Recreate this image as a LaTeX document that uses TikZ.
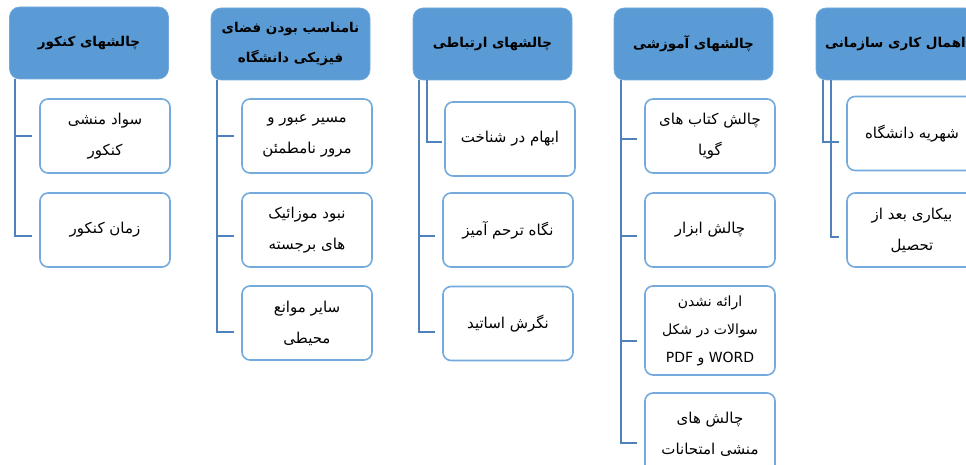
\documentclass[tikz,border=0pt]{standalone}
\usepackage{fontspec}
\TeXXeTstate=1
\newfontfamily\arabicfont[Script=Arabic]{DejaVu Sans}
\newcommand{\fa}[1]{\beginR #1\endR}
\definecolor{hdrblue}{HTML}{5B9BD5}
\definecolor{boxline}{HTML}{74AADC}
\definecolor{connblue}{HTML}{4F81BD}
\tikzset{
  hdr/.style={rectangle, rounded corners=10pt, fill=hdrblue, draw=hdrblue!85!white, line width=0.6pt,
    minimum width=159pt, minimum height=72pt, align=center, inner sep=1pt,
    font=\arabicfont\bfseries\fontsize{13.5}{30}\selectfont},
  leaf/.style={rectangle, rounded corners=8pt, fill=white, draw=boxline, line width=1.6pt,
    minimum width=130pt, minimum height=74pt, align=center, inner sep=1pt,
    font=\arabicfont\fontsize{15}{31}\selectfont},
  conn/.style={draw=connblue, line width=2pt, shorten >=7pt}
}
\begin{document}
\begin{tikzpicture}[x=1pt,y=-1pt]
\useasboundingbox (0,0) rectangle (966,465);
\clip (0,0) rectangle (966,465);
% headers
\node[hdr] (h1) at (89,43) {\fa{چالشهای کنکور}};
\node[hdr] (h2) at (290.5,44) {\fa{نامناسب بودن فضای}\\\fa{فیزیکی دانشگاه}};
\node[hdr] (h3) at (492.5,44) {\fa{چالشهای ارتباطی}};
\node[hdr] (h4) at (693.5,44) {\fa{چالشهای آموزشی}};
\node[hdr] (h5) at (895.5,44) {\fa{اهمال کاری سازمانی}};
% column 1
\node[leaf] (a1) at (105,136) {\fa{سواد منشی}\\\fa{کنکور}};
\node[leaf] (a2) at (105,230) {\fa{زمان کنکور}};
% column 2
\node[leaf] (b1) at (307,136) {\fa{مسیر عبور و}\\\fa{مرور نامطمئن}};
\node[leaf] (b2) at (307,230) {\fa{نبود موزائیک}\\\fa{های برجسته}};
\node[leaf] (b3) at (307,323) {\fa{سایر موانع}\\\fa{محیطی}};
% column 3
\node[leaf] (c1) at (510,139) {\fa{ابهام در شناخت}};
\node[leaf] (c2) at (508,230) {\fa{نگاه ترحم آمیز}};
\node[leaf] (c3) at (508,323.5) {\fa{نگرش اساتید}};
% column 4
\node[leaf] (d1) at (710,136) {\fa{چالش کتاب های}\\\fa{گویا}};
\node[leaf] (d2) at (710,230) {\fa{چالش ابزار}};
\node[leaf, minimum height=89pt, font=\arabicfont\fontsize{14}{28}\selectfont] (d3) at (710,330.5) {\fa{ارائه نشدن}\\\fa{سوالات در شکل}\\\fa{\beginL WORD\endL{} و \beginL PDF\endL{}}};
\node[leaf, minimum height=82pt] (d4) at (710,434) {\fa{چالش های}\\\fa{منشی امتحانات}};
% column 5
\node[leaf] (e1) at (912,133.5) {\fa{شهریه دانشگاه}};
\node[leaf] (e2) at (912,230) {\fa{بیکاری بعد از}\\\fa{تحصیل}};
% connectors
\draw[conn] ([xshift=6pt]h1.south west) |- (a1.west);
\draw[conn] ([xshift=6pt]h1.south west) |- ([yshift=-6pt]a2.west);
\draw[conn] ([xshift=6pt]h2.south west) |- (b1.west);
\draw[conn] ([xshift=6pt]h2.south west) |- ([yshift=-6pt]b2.west);
\draw[conn] ([xshift=6pt]h2.south west) |- ([yshift=-9pt]b3.west);
\draw[conn,shorten >=2pt] ([xshift=14pt]h3.south west) |- ([yshift=-3pt]c1.west);
\draw[conn] ([xshift=6pt]h3.south west) |- ([yshift=-6pt]c2.west);
\draw[conn] ([xshift=6pt]h3.south west) |- ([yshift=-8.5pt]c3.west);
\draw[conn] ([xshift=7pt]h4.south west) |- ([yshift=-3pt]d1.west);
\draw[conn] ([xshift=7pt]h4.south west) |- ([yshift=-6pt]d2.west);
\draw[conn] ([xshift=7pt]h4.south west) |- ([yshift=-10.5pt]d3.west);
\draw[conn] ([xshift=7pt]h4.south west) |- ([yshift=-9pt]d4.west);
\draw[conn] ([xshift=7pt]h5.south west) |- ([yshift=-8.5pt]e1.west);
\draw[conn] ([xshift=15pt]h5.south west) |- ([yshift=-7pt]e2.west);
\end{tikzpicture}
\end{document}
